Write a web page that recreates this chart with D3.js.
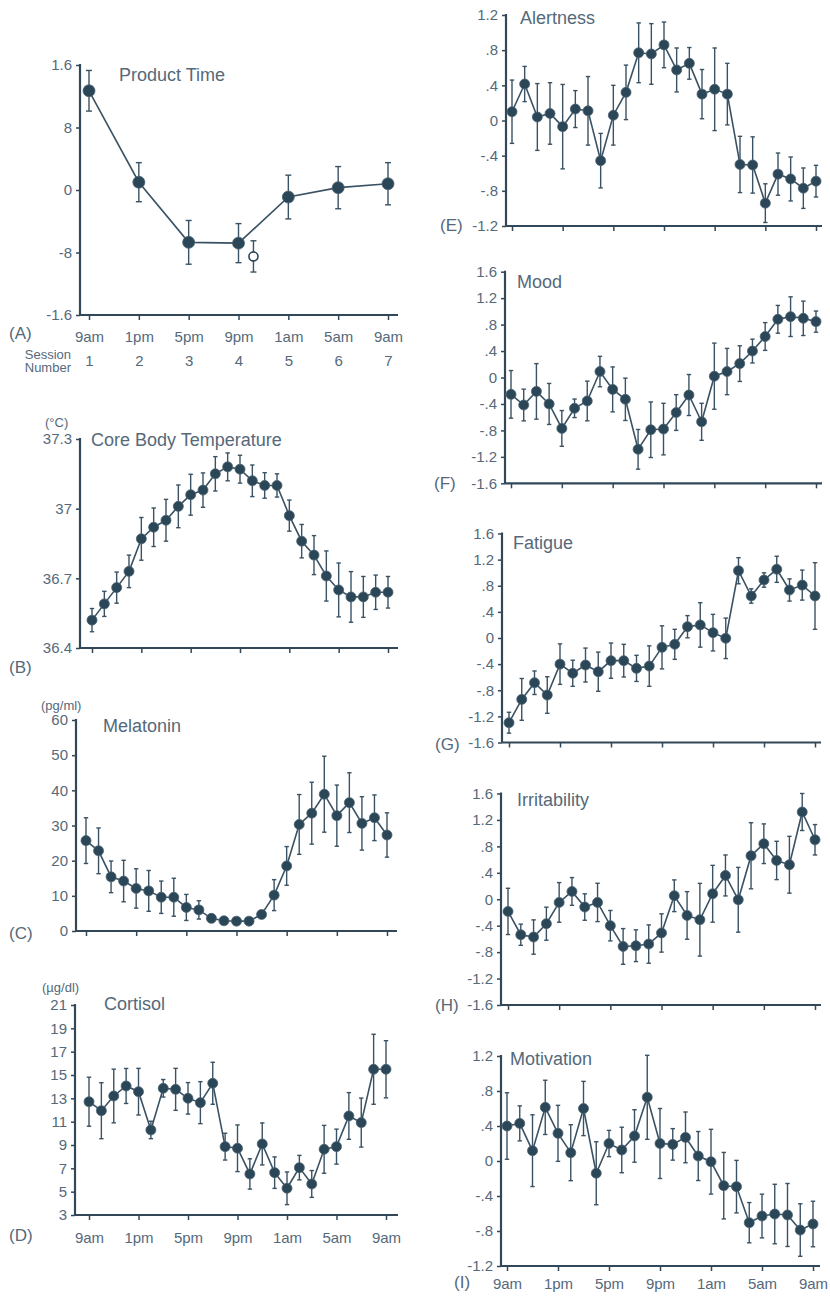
<!DOCTYPE html>
<html><head><meta charset="utf-8">
<script src="https://cdn.jsdelivr.net/npm/d3@7"></script>
<style>
html,body{margin:0;padding:0;background:#fff;}
svg{display:block;}
text{font-family:"Liberation Sans", Arial, Helvetica, sans-serif;}
</style></head><body>
<svg id="chart" width="830" height="1297"></svg>
<script>
// ---------------- DATA ----------------
const sessions = [1, 2, 3, 4, 5, 6, 7];
const sessionNumbers = ["1", "2", "3", "4", "5", "6", "7"];
const timeLabels = ["9am", "1pm", "5pm", "9pm", "1am", "5am", "9am"];
const hourIndex = [0,1,2,3,4,5,6,7,8,9,10,11,12,13,14,15,16,17,18,19,20,21,22,23,24];
const hourTicks = [0, 4, 8, 12, 16, 20, 24];

const productTime = [1.27, 0.10, -0.67, -0.68, -0.09, 0.03, 0.08];
const productTimeErr = [0.26, 0.25, 0.28, 0.25, 0.28, 0.27, 0.27];
const productTimeExtraSession = [4.3];
const productTimeExtra = [-0.85];
const productTimeExtraErr = [0.2];
const productTimeTicks = [-1.6, -0.8, 0, 0.8, 1.6];
const productTimeTickLabels = ["-1.6", "-8", "0", "8", "1.6"];

const temperature = [36.52, 36.59, 36.66, 36.73, 36.87, 36.92, 36.95, 37.01, 37.06, 37.08, 37.15, 37.18, 37.17, 37.12, 37.10, 37.10, 36.97, 36.86, 36.80, 36.71, 36.65, 36.62, 36.62, 36.64, 36.64];
const temperatureErr = [0.05, 0.054, 0.067, 0.07, 0.092, 0.083, 0.09, 0.092, 0.088, 0.074, 0.074, 0.06, 0.06, 0.068, 0.055, 0.05, 0.067, 0.072, 0.084, 0.108, 0.116, 0.109, 0.088, 0.074, 0.068];
const temperatureTicks = [36.4, 36.7, 37.0, 37.3];
const temperatureTickLabels = ["36.4", "36.7", "37", "37.3"];

const melatonin = [25.7, 22.8, 15.4, 14.2, 12.1, 11.4, 9.6, 9.6, 6.7, 6.0, 3.6, 2.9, 2.8, 2.8, 4.7, 10.2, 18.5, 30.3, 33.5, 38.9, 32.8, 36.5, 30.6, 32.2, 27.3];
const melatoninErr = [6.5, 6.5, 4.5, 5.9, 5.6, 5.8, 4.6, 5.4, 3.7, 2.6, 0.6, 0.5, 0.5, 0.5, 1.0, 4.4, 5.5, 8.5, 8.8, 10.8, 8.7, 8.5, 7.6, 6.5, 6.3];
const melatoninTicks = [0, 10, 20, 30, 40, 50, 60];
const melatoninTickLabels = ["0", "10", "20", "30", "40", "50", "60"];

const cortisol = [12.71, 11.94, 13.2, 14.06, 13.57, 10.29, 13.86, 13.77, 13.0, 12.63, 14.29, 8.86, 8.72, 6.52, 9.09, 6.63, 5.29, 7.06, 5.66, 8.63, 8.86, 11.49, 10.92, 15.49, 15.49];
const cortisolErr = [2.1, 2.4, 2.3, 1.5, 2.0, 0.75, 0.75, 1.8, 1.35, 1.8, 1.8, 1.15, 2.0, 1.3, 1.8, 1.35, 1.4, 1.05, 1.15, 2.05, 1.5, 2.0, 2.1, 3.0, 2.45];
const cortisolTicks = [3, 5, 7, 9, 11, 13, 15, 17, 19, 21];
const cortisolTickLabels = ["3", "5", "7", "9", "11", "13", "15", "17", "19", "21"];

const alertness = [0.10, 0.415, 0.04, 0.08, -0.07, 0.13, 0.11, -0.457, 0.06, 0.32, 0.77, 0.757, 0.86, 0.575, 0.65, 0.30, 0.355, 0.30, -0.50, -0.506, -0.94, -0.61, -0.665, -0.77, -0.69];
const alertnessErr = [0.36, 0.2, 0.38, 0.35, 0.48, 0.21, 0.39, 0.31, 0.34, 0.31, 0.34, 0.345, 0.26, 0.25, 0.18, 0.28, 0.47, 0.35, 0.32, 0.32, 0.22, 0.24, 0.25, 0.23, 0.18];

const mood = [-0.255, -0.416, -0.21, -0.40, -0.77, -0.466, -0.355, 0.09, -0.18, -0.33, -1.086, -0.79, -0.78, -0.53, -0.265, -0.67, 0.02, 0.09, 0.21, 0.40, 0.62, 0.88, 0.92, 0.895, 0.845];
const moodErr = [0.36, 0.24, 0.42, 0.31, 0.27, 0.14, 0.30, 0.23, 0.34, 0.32, 0.30, 0.42, 0.39, 0.27, 0.31, 0.28, 0.50, 0.35, 0.27, 0.18, 0.21, 0.21, 0.30, 0.26, 0.16];

const fatigue = [-1.297, -0.94, -0.685, -0.873, -0.40, -0.54, -0.414, -0.516, -0.347, -0.347, -0.465, -0.43, -0.143, -0.097, 0.173, 0.20, 0.082, -0.005, 1.03, 0.643, 0.888, 1.052, 0.735, 0.81, 0.643];
const fatigueErr = [0.16, 0.32, 0.18, 0.28, 0.31, 0.20, 0.26, 0.30, 0.27, 0.25, 0.20, 0.31, 0.33, 0.23, 0.17, 0.34, 0.28, 0.31, 0.20, 0.11, 0.11, 0.20, 0.17, 0.23, 0.51];

const irritability = [-0.184, -0.537, -0.572, -0.37, -0.048, 0.118, -0.118, -0.048, -0.40, -0.714, -0.703, -0.678, -0.51, 0.053, -0.245, -0.31, 0.083, 0.36, -0.008, 0.658, 0.84, 0.587, 0.522, 1.32, 0.90];
const irritabilityErr = [0.35, 0.16, 0.26, 0.25, 0.30, 0.21, 0.20, 0.29, 0.23, 0.27, 0.24, 0.29, 0.29, 0.24, 0.36, 0.55, 0.43, 0.31, 0.49, 0.50, 0.30, 0.29, 0.43, 0.28, 0.23];

const motivation = [0.40, 0.43, 0.118, 0.613, 0.316, 0.095, 0.60, -0.14, 0.20, 0.126, 0.286, 0.728, 0.20, 0.19, 0.27, 0.057, -0.008, -0.282, -0.293, -0.705, -0.629, -0.606, -0.617, -0.789, -0.72];
const motivationErr = [0.38, 0.20, 0.41, 0.31, 0.32, 0.32, 0.31, 0.36, 0.15, 0.26, 0.30, 0.48, 0.40, 0.18, 0.29, 0.28, 0.37, 0.38, 0.30, 0.23, 0.25, 0.34, 0.36, 0.30, 0.26];

const ticks12 = [-1.2, -0.8, -0.4, 0, 0.4, 0.8, 1.2];
const ticks12Labels = ["-1.2", "-.8", "-.4", "0", ".4", ".8", "1.2"];
const ticks16 = [-1.6, -1.2, -0.8, -0.4, 0, 0.4, 0.8, 1.2, 1.6];
const ticks16Labels = ["-1.6", "-1.2", "-.8", "-.4", "0", ".4", ".8", "1.2", "1.6"];

// ---------------- STYLE / LAYOUT ----------------
const C = {text: "#55697a", axis: "#324758", mark: "#2b4656", line: "#3a5263"};

const panels = [
  {letter:"(A)", title:"Product Time", values:productTime, errors:productTimeErr, xs:sessions, xDomain:[1,7],
   xTicks:sessions, xLabels:timeLabels, yDomain:[-1.6,1.6], yTicks:productTimeTicks, yLabels:productTimeTickLabels,
   L:{axisX:80, x0:89, x1:388, yTop:65, yBottom:315, axisEnd:398, tx:119, ty:81, lx:9, ly:339, xPad:11, r:6, cap:3}},
  {letter:"(B)", title:"Core Body Temperature", unit:"(°C)", values:temperature, errors:temperatureErr, xs:hourIndex, xDomain:[0,24],
   xTicks:hourTicks, yDomain:[36.4,37.3], yTicks:temperatureTicks, yLabels:temperatureTickLabels,
   L:{axisX:80, x0:92, x1:388, yTop:439, yBottom:648, axisEnd:398, tx:91, ty:446, ux:45, uy:427, lx:9, ly:673, r:5, cap:2.2}},
  {letter:"(C)", title:"Melatonin", unit:"(pg/ml)", values:melatonin, errors:melatoninErr, xs:hourIndex, xDomain:[0,24],
   xTicks:hourTicks, yDomain:[0,60], yTicks:melatoninTicks, yLabels:melatoninTickLabels,
   L:{axisX:76, x0:86, x1:387, yTop:720, yBottom:931, axisEnd:397, tx:103, ty:732, ux:41, uy:710, lx:9, ly:939, r:5, cap:2.2}},
  {letter:"(D)", title:"Cortisol", unit:"(µg/dl)", values:cortisol, errors:cortisolErr, xs:hourIndex, xDomain:[0,24],
   xTicks:hourTicks, xLabels:timeLabels, yDomain:[3,21], yTicks:cortisolTicks, yLabels:cortisolTickLabels,
   L:{axisX:75, x0:89, x1:386, yTop:1005, yBottom:1215, axisEnd:398, tx:104, ty:1010, ux:42, uy:992, lx:9, ly:1241, xPad:12, r:5, cap:2.2}},
  {letter:"(E)", title:"Alertness", values:alertness, errors:alertnessErr, xs:hourIndex, xDomain:[0,24],
   xTicks:hourTicks, yDomain:[-1.2,1.2], yTicks:ticks12, yLabels:ticks12Labels,
   L:{axisX:506, x0:512, x1:816, yTop:15, yBottom:226, axisEnd:822, tx:520, ty:24, lx:440, ly:231, r:5, cap:2.2}},
  {letter:"(F)", title:"Mood", values:mood, errors:moodErr, xs:hourIndex, xDomain:[0,24],
   xTicks:hourTicks, yDomain:[-1.6,1.6], yTicks:ticks16, yLabels:ticks16Labels,
   L:{axisX:505, x0:511, x1:816, yTop:271.7, yBottom:483.3, axisEnd:822, tx:517, ty:288, lx:434, ly:489, r:5, cap:2.2}},
  {letter:"(G)", title:"Fatigue", values:fatigue, errors:fatigueErr, xs:hourIndex, xDomain:[0,24],
   xTicks:hourTicks, yDomain:[-1.6,1.6], yTicks:ticks16, yLabels:ticks16Labels,
   L:{axisX:502, x0:509, x1:815, yTop:533.5, yBottom:742.5, axisEnd:821, tx:513, ty:549, lx:435, ly:750, r:5, cap:2.2}},
  {letter:"(H)", title:"Irritability", values:irritability, errors:irritabilityErr, xs:hourIndex, xDomain:[0,24],
   xTicks:hourTicks, yDomain:[-1.6,1.6], yTicks:ticks16, yLabels:ticks16Labels,
   L:{axisX:501, x0:508, x1:815, yTop:793.5, yBottom:1005, axisEnd:821, tx:517, ty:806, lx:435, ly:1011, r:5, cap:2.2}},
  {letter:"(I)", title:"Motivation", values:motivation, errors:motivationErr, xs:hourIndex, xDomain:[0,24],
   xTicks:hourTicks, xLabels:timeLabels, yDomain:[-1.2,1.2], yTicks:ticks12, yLabels:ticks12Labels,
   L:{axisX:501, x0:507, x1:813, yTop:1056, yBottom:1266, axisEnd:820, tx:510, ty:1065, lx:454, ly:1288, xPad:7, r:5, cap:2.2}}
];

const svg = d3.select("#chart");

function styleAxis(g){
  g.attr("font-family", null).attr("font-size", 15).attr("color", C.axis);
  g.selectAll(".tick line").attr("stroke-width", 1.5);
  g.selectAll(".tick text").attr("fill", C.text);
  g.select(".domain").remove();
}

function drawPanel(p){
  const L = p.L;
  const x = d3.scaleLinear().domain(p.xDomain).range([L.x0, L.x1]);
  const y = d3.scaleLinear().domain(p.yDomain).range([L.yBottom, L.yTop]);
  const g = svg.append("g");

  // y axis
  const ya = d3.axisLeft(y).tickValues(p.yTicks).tickFormat((d,i)=>p.yLabels[i]).tickSize(4).tickPadding(4);
  const yg = g.append("g").attr("transform", `translate(${L.axisX},0)`).call(ya);
  styleAxis(yg);
  g.append("line").attr("x1", L.axisX).attr("x2", L.axisX).attr("y1", L.yTop - 1).attr("y2", L.yBottom)
    .attr("stroke", C.axis).attr("stroke-width", 2.2);

  // x axis
  const xa = d3.axisBottom(x).tickValues(p.xTicks)
    .tickFormat(p.xLabels ? (d,i)=>p.xLabels[i] : () => "")
    .tickSize(5).tickPadding(L.xPad || 4);
  const xg = g.append("g").attr("transform", `translate(0,${L.yBottom})`).call(xa);
  styleAxis(xg);
  g.append("line").attr("x1", L.axisX).attr("x2", L.axisEnd).attr("y1", L.yBottom).attr("y2", L.yBottom)
    .attr("stroke", C.axis).attr("stroke-width", 2.2);

  // connecting line
  const line = d3.line().x((d,i)=>x(p.xs[i])).y(d=>y(d));
  g.append("path").datum(p.values).attr("d", line).attr("fill", "none")
    .attr("stroke", C.line).attr("stroke-width", 1.6);

  // error bars
  const eb = g.append("g").attr("stroke", C.line).attr("stroke-width", 1.4);
  p.values.forEach((v,i)=>{
    const cx = x(p.xs[i]), e = p.errors[i];
    const yt = y(v + e), yb = y(v - e);
    eb.append("line").attr("x1", cx).attr("x2", cx).attr("y1", yt).attr("y2", yb);
    eb.append("line").attr("x1", cx - L.cap).attr("x2", cx + L.cap).attr("y1", yt).attr("y2", yt);
    eb.append("line").attr("x1", cx - L.cap).attr("x2", cx + L.cap).attr("y1", yb).attr("y2", yb);
  });

  // points
  g.append("g").selectAll("circle").data(p.values).join("circle")
    .attr("cx", (d,i)=>x(p.xs[i])).attr("cy", d=>y(d)).attr("r", L.r)
    .attr("fill", C.mark).attr("stroke", "#4a6373").attr("stroke-width", 0.8);

  // titles / labels
  g.append("text").attr("x", L.tx).attr("y", L.ty).attr("font-size", 18).attr("fill", C.text).text(p.title);
  g.append("text").attr("x", L.lx).attr("y", L.ly).attr("font-size", 17).attr("fill", C.text).text(p.letter);
  if (p.unit) g.append("text").attr("x", L.ux).attr("y", L.uy).attr("font-size", 13).attr("fill", C.text).text(p.unit);

  return {x, y, g};
}

const drawn = panels.map(drawPanel);

// Panel A extras: open circle (second measurement near session 4) and session numbers
(function(){
  const {x, y, g} = drawn[0];
  const L = panels[0].L;
  const eb = g.append("g").attr("stroke", C.line).attr("stroke-width", 1.4);
  productTimeExtra.forEach((v,i)=>{
    const cx = x(productTimeExtraSession[i]), e = productTimeExtraErr[i];
    eb.append("line").attr("x1", cx).attr("x2", cx).attr("y1", y(v+e)).attr("y2", y(v-e));
    eb.append("line").attr("x1", cx-3).attr("x2", cx+3).attr("y1", y(v+e)).attr("y2", y(v+e));
    eb.append("line").attr("x1", cx-3).attr("x2", cx+3).attr("y1", y(v-e)).attr("y2", y(v-e));
    g.append("circle").attr("cx", cx).attr("cy", y(v)).attr("r", 4.5)
      .attr("fill", "#fff").attr("stroke", C.mark).attr("stroke-width", 1.6);
  });
  const sa = d3.axisBottom(x).tickValues(sessions).tickFormat((d,i)=>sessionNumbers[i]).tickSize(0).tickPadding(0);
  const sg = g.append("g").attr("transform", `translate(0,${L.yBottom + 51})`).call(sa);
  styleAxis(sg);
  sg.selectAll("text").attr("dy", null);
  g.append("text").attr("x", 71).attr("y", 359).attr("font-size", 13).attr("text-anchor", "end").attr("fill", C.text).text("Session");
  g.append("text").attr("x", 71).attr("y", 372).attr("font-size", 13).attr("text-anchor", "end").attr("fill", C.text).text("Number");
})();
</script>
</body></html>
